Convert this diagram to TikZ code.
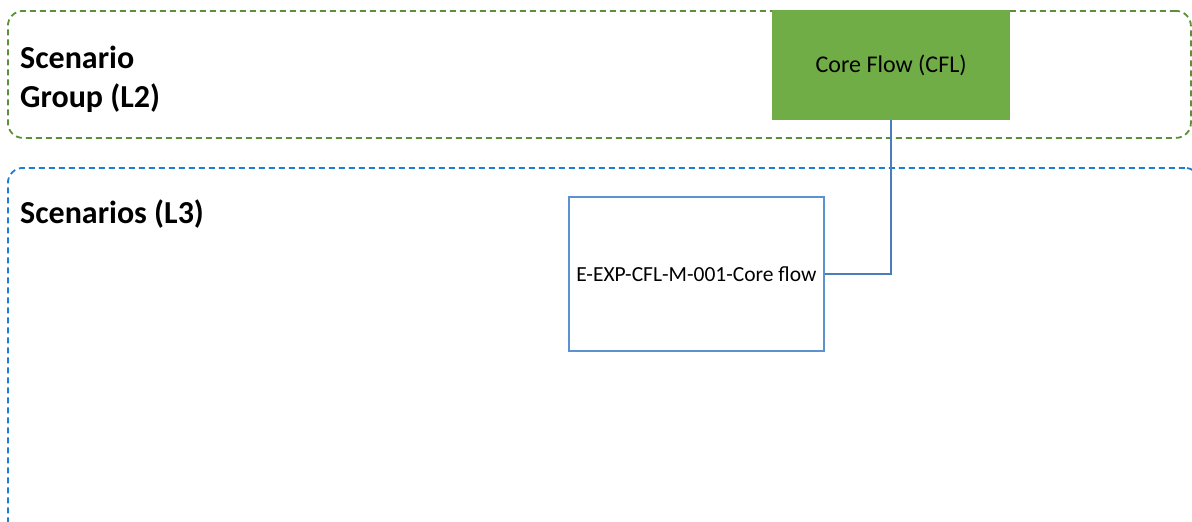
\documentclass[tikz,border=0pt]{standalone}
\usepackage{fontspec}
\setmainfont{Carlito}
\usepackage{tikz}
\usetikzlibrary{positioning}
\definecolor{grpline}{HTML}{5B8F3A}
\definecolor{scnline}{HTML}{1A7FD4}
\definecolor{grpfill}{HTML}{70AD47}
\definecolor{boxline}{HTML}{5B93D0}
\definecolor{linkline}{HTML}{4A7EBB}
\tikzset{
  frame/.style={dash pattern=on 6pt off 4pt,line width=1.8pt,rounded corners=15pt,anchor=north west,inner sep=0pt},
  heading/.style={font=\fontsize{32}{39}\selectfont\bfseries,align=left,anchor=base west,inner sep=0pt},
}

\begin{document}
\begin{tikzpicture}[x=1pt,y=-1pt]
      \clip (0,0) rectangle (1192,522);
      \node[frame,draw=grpline,minimum width=1183pt,minimum height=127pt] (0) at (7,10) {};
      \node[frame,draw=scnline,minimum width=1192pt,minimum height=400pt] (1) at (7,167) {};
      \node[heading] (2) at (20,107) {Scenario\\Group (L2)};
      \node[heading] (3) at (20,223) {Scenarios (L3)};
      \node[fill=grpfill,minimum width=238pt,minimum height=110pt,anchor=north west,font=\fontsize{24}{29}\selectfont] (4) at (772,10) {Core Flow (CFL)};
      \node[draw=boxline,line width=1.8pt,minimum width=255pt,minimum height=154pt,anchor=north west,inner sep=0pt,font=\fontsize{21.5}{26}\selectfont] (5) at (568,196) {E-EXP-CFL-M-001-Core flow};

      \draw[linkline,line width=2pt] (5) -| (4);
    \end{tikzpicture}
\end{document}
